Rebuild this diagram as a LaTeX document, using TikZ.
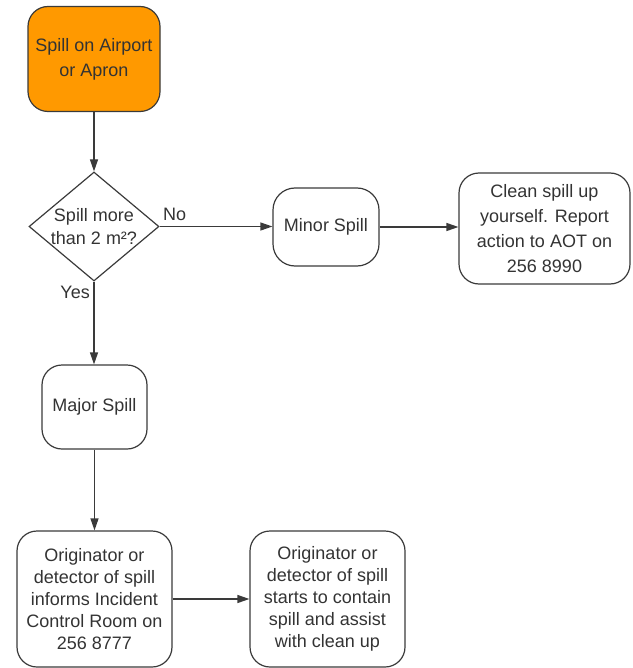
\documentclass[tikz,border=0pt]{standalone}
\usepackage{fontspec}
\setmainfont{Liberation Sans}
\usetikzlibrary{shapes.geometric,arrows.meta}
\definecolor{linec}{HTML}{3A3A3A}
\definecolor{textc}{HTML}{333333}
\definecolor{orangec}{HTML}{FF9900}
\tikzset{
  box/.style={draw=linec, line width=1.2pt, rounded corners=20pt, rectangle, align=center,
    text=textc, inner sep=0pt, font=\fontsize{18}{25}\selectfont},
  bigbox/.style={box, font=\fontsize{18}{22}\selectfont},
  decision/.style={draw=linec, line width=1.2pt, diamond, inner sep=0pt},
  dectext/.style={align=center, text=textc, inner sep=0pt, font=\fontsize{18}{23}\selectfont},
  conn/.style={draw=linec, line width=1.2pt, -{Triangle[length=12pt,width=8pt]}},
  lbl/.style={text=textc, font=\fontsize{18}{21}\selectfont, inner sep=0pt}
}
\begin{document}
\begin{tikzpicture}[x=1pt,y=-1pt]
\useasboundingbox (0,0) rectangle (632,668);
\node[box, fill=orangec, minimum width=132pt, minimum height=105pt] (start) at (94,59) {Spill on Airport\\or Apron};
\node[decision, minimum width=130pt, minimum height=109pt] (dec) at (94,226.5) {};
\node[dectext] (dect) at (94,226.5) {Spill more\\than 2 m²?};
\node[box, minimum width=106pt, minimum height=78pt, rounded corners=22pt] (minor) at (326,227) {Minor Spill};
\node[box, minimum width=171pt, minimum height=111pt] (clean) at (544.5,228.5) {Clean spill up\\yourself. Report\\action to AOT on\\256 8990};
\node[box, minimum width=105pt, minimum height=84pt] (major) at (94.5,407) {Major Spill};
\node[bigbox, minimum width=155pt, minimum height=136pt] (orig1) at (94.5,599) {Originator or\\detector of spill\\informs Incident\\Control Room on\\256 8777};
\node[bigbox, minimum width=155pt, minimum height=136pt] (orig2) at (327.5,599) {Originator or\\detector of spill\\starts to contain\\spill and assist\\with clean up};
\draw[conn] (start.south) -- (dec.north);
\draw[conn] (dec.east) -- (minor.west |- dec.east);
\draw[conn] (minor.east) -- (clean.west |- minor.east);
\draw[conn] (dec.south) -- (major.north -| dec.south);
\draw[conn] (major.south) -- (orig1.north -| major.south);
\draw[conn] (orig1.east) -- (orig2.west);
\node[lbl, anchor=west] (no) at (163,214) {No};
\node[lbl, anchor=east] (yes) at (90,292) {Yes};
\end{tikzpicture}
\end{document}
